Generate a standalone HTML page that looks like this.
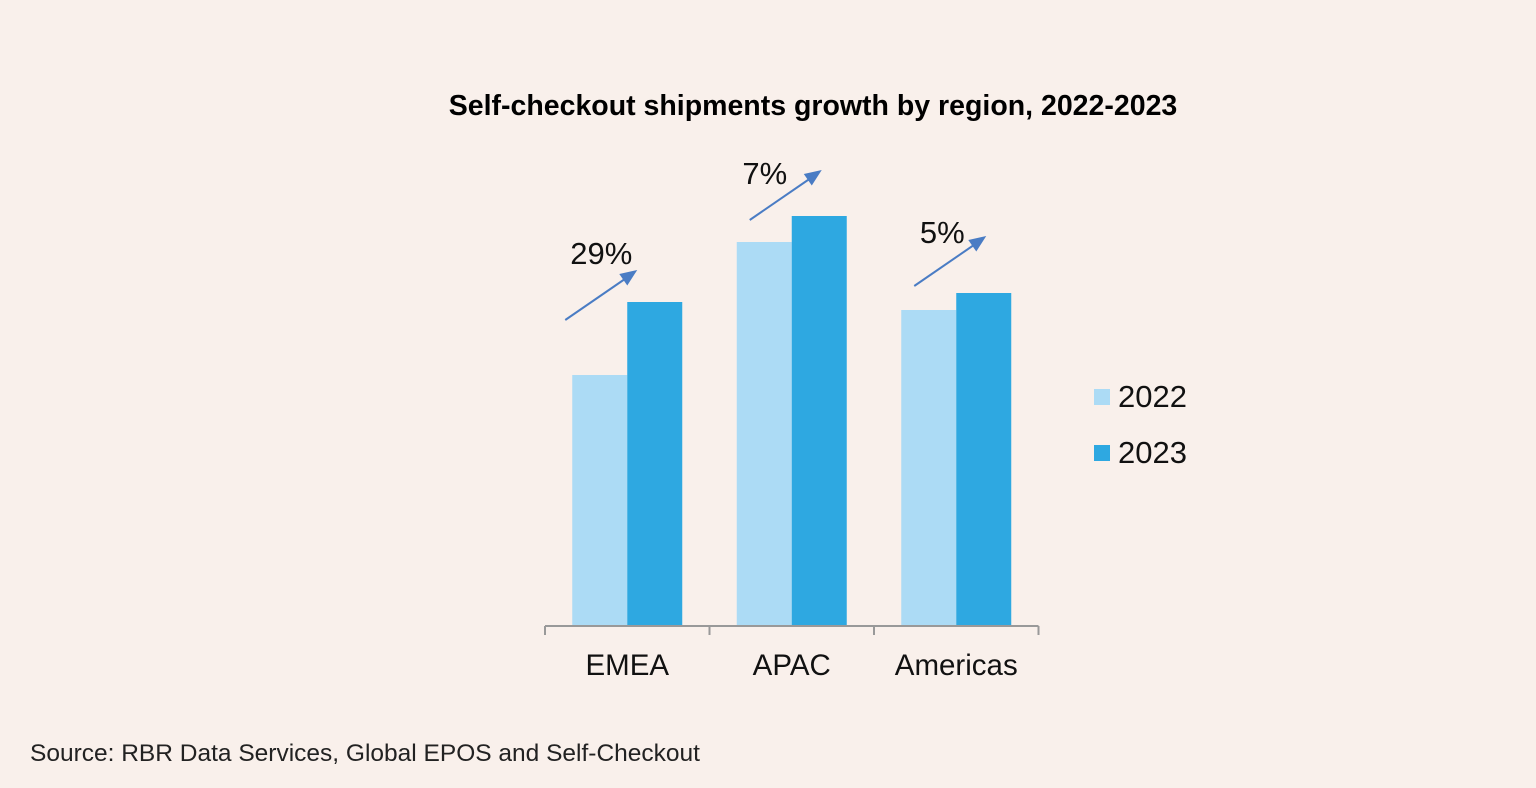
<!DOCTYPE html>
<html><head><meta charset="utf-8"><style>
html,body{margin:0;padding:0;background:#f9f0eb;}
svg{display:block;font-family:"Liberation Sans",sans-serif;}
</style></head><body>
<svg id="chart" width="1536" height="788" viewBox="0 0 1536 788">
<rect width="1536" height="788" fill="#f9f0eb"/>
<text x="813" y="115" text-anchor="middle" font-size="28.5" font-weight="bold" fill="#000">Self-checkout shipments growth by region, 2022-2023</text>
<g id="bars"></g>
<g id="axis"></g>
<g id="arrows"></g>
<g>
<rect x="1094" y="389" width="16" height="16" fill="#acdbf5"/>
<text x="1118" y="407" font-size="31" fill="#111">2022</text>
<rect x="1094" y="445" width="16" height="16" fill="#2ea8e1"/>
<text x="1118" y="463" font-size="31" fill="#111">2023</text>
</g>
<text x="30" y="761" font-size="24.5" fill="#222">Source: RBR Data Services, Global EPOS and Self-Checkout</text>
</svg>
<script>
const categories = ["EMEA", "APAC", "Americas"];
const values2022 = [251, 384, 316];
const values2023 = [324, 410, 333];
const growthLabels = ["29%", "7%", "5%"];
const NS = "http://www.w3.org/2000/svg";
const baseY = 626, axisX0 = 545, groupW = 164.5, barW = 55, pxPerUnit = 1;
// annotation layout offsets (relative to the 2022 bar left/top)
const arrowDX = [-7, 13, 13], arrowDY = [-55, -22, -24];
const labelDX = [36, 15, 28], labelDY = [-6, 14, 7];
function yScale(v){ return baseY - v * pxPerUnit; }
function groupStart(i){ return axisX0 + i * groupW; }
function mk(tag, attrs, parent){ const e = document.createElementNS(NS, tag); for (const k in attrs) e.setAttribute(k, attrs[k]); parent.appendChild(e); return e; }
const bars = document.getElementById('bars'), axis = document.getElementById('axis'), arrows = document.getElementById('arrows');
categories.forEach((c, i) => {
  const gx = groupStart(i) + (groupW - 2 * barW) / 2;
  const b1 = mk('rect', {x: gx, y: yScale(values2022[i]), width: barW, height: baseY - yScale(values2022[i]), fill: '#acdbf5'}, bars);
  
  
  const b2 = mk('rect', {x: gx + barW, y: yScale(values2023[i]), width: barW, height: baseY - yScale(values2023[i]), fill: '#2ea8e1'}, bars);
  
  
  const t = mk('text', {x: groupStart(i) + groupW / 2, y: 675, 'text-anchor': 'middle', 'font-size': 29.5, fill: '#111'}, axis);
  t.textContent = c;
  
  
  const ax0 = gx + arrowDX[i], ay0 = yScale(values2022[i]) + arrowDY[i], ax1 = ax0 + 72, ay1 = ay0 - 50;
  const ln = mk('line', {x1: ax0, y1: ay0, x2: ax1 - 8, y2: ay1 + 6, stroke: '#4a7cc4', 'stroke-width': 2}, arrows);
  
  
  const ang = Math.atan2(ay1 - ay0, ax1 - ax0), L = 17, W = 7;
  const bx = ax1 - L * Math.cos(ang), by = ay1 - L * Math.sin(ang);
  const px = -Math.sin(ang) * W, py = Math.cos(ang) * W;
  const hd = mk('polygon', {points: `${ax1},${ay1} ${bx + px},${by + py} ${bx - px},${by - py}`, fill: '#4a7cc4'}, arrows);
  
  
  const gl = mk('text', {x: ax0 + labelDX[i], y: ay1 + labelDY[i], 'text-anchor': 'middle', 'font-size': 31, fill: '#111'}, arrows);
  gl.textContent = growthLabels[i];
  
  
});
const al = mk('line', {x1: axisX0, y1: baseY, x2: axisX0 + 3 * groupW, y2: baseY, stroke: '#999', 'stroke-width': 2}, axis);


for (let i = 0; i <= categories.length; i++) {
  const tk = mk('line', {x1: groupStart(i), y1: baseY, x2: groupStart(i), y2: baseY + 9, stroke: '#999', 'stroke-width': 2}, axis);
  
  
}
</script>
</body></html>
